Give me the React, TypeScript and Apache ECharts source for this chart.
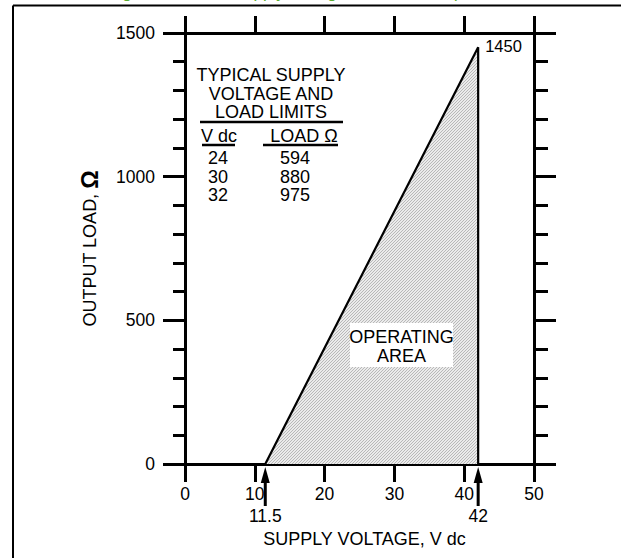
import React, { useEffect, useRef } from "react";
import * as echarts from "echarts";

// ---- data ----
const xTickValues = [0, 10, 20, 30, 40, 50];
const yTickValues = [0, 500, 1000, 1500];
const areaVoltage = [11.5, 42, 42];
const areaLoad = [0, 1450, 0];
const apexVoltage = 42;
const apexLoad = 1450;
const limitVoltages = [11.5, 42];
const tableVdc = ["24", "30", "32"];
const tableLoad = ["594", "880", "975"];
const tableTitle = ["TYPICAL SUPPLY", "VOLTAGE AND", "LOAD LIMITS"];

const FONT = '"Liberation Sans", Arial, Helvetica, sans-serif';

export default function App() {
  const ref = useRef<HTMLDivElement>(null);

  useEffect(() => {
    document.body.style.margin = "0";
    const chart = echarts.init(ref.current!, null, { renderer: "svg" });

    // hatch pattern
    const c = document.createElement("canvas");
    c.width = 3;
    c.height = 3;
    const ctx = c.getContext("2d")!;
    ctx.fillStyle = "#ebebeb";
    ctx.fillRect(0, 0, 3, 3);
    ctx.fillStyle = "#b8b8b8";
    for (let i = 0; i < 3; i++) ctx.fillRect(i, 2 - i, 1, 1);
    const hatch: any = { image: c, repeat: "repeat" };

    const black = "#000";
    const tickLabel = { color: black, fontSize: 17.5, fontFamily: FONT, formatter: (v: number) => String(v) };

    const graphic: any[] = [
      // frame
      { type: "line", z: 20, shape: { x1: 13, y1: 5.5, x2: 621, y2: 5.5 }, style: { stroke: black, lineWidth: 2 } },
      { type: "line", z: 20, shape: { x1: 13, y1: 5.5, x2: 13, y2: 558 }, style: { stroke: black, lineWidth: 2 } },
      // clipped title (only descenders visible in the reference)
      {
        type: "text", z: 19, x: 108, y: 0.5,
        style: { text: "Figure 3. Power Supply Voltage and Load Requirements", fill: "#5aac2e", font: `17px ${FONT}`, verticalAlign: "bottom", align: "left" },
      },
      // table
      ...tableTitle.map((t, i) => ({
        type: "text", z: 20, x: 271, y: 75 + i * 18.5,
        style: { text: t, fill: black, font: `18px ${FONT}`, align: "center", verticalAlign: "middle" },
      })),
      { type: "line", z: 20, shape: { x1: 200, y1: 122, x2: 343, y2: 122 }, style: { stroke: black, lineWidth: 2.5 } },
      { type: "text", z: 20, x: 219, y: 136, style: { text: "V dc", fill: black, font: `18px ${FONT}`, align: "center", verticalAlign: "middle" } },
      { type: "text", z: 20, x: 304, y: 136, style: { text: "LOAD Ω", fill: black, font: `18px ${FONT}`, align: "center", verticalAlign: "middle" } },
      { type: "line", z: 20, shape: { x1: 202, y1: 145, x2: 235, y2: 145 }, style: { stroke: black, lineWidth: 2.5 } },
      { type: "line", z: 20, shape: { x1: 263, y1: 145, x2: 338, y2: 145 }, style: { stroke: black, lineWidth: 2.5 } },
      ...tableVdc.map((t, i) => ({
        type: "text", z: 20, x: 218, y: 158 + i * 18.5,
        style: { text: t, fill: black, font: `18px ${FONT}`, align: "center", verticalAlign: "middle" },
      })),
      ...tableLoad.map((t, i) => ({
        type: "text", z: 20, x: 295, y: 158 + i * 18.5,
        style: { text: t, fill: black, font: `18px ${FONT}`, align: "center", verticalAlign: "middle" },
      })),
      // operating area label
      { type: "rect", z: 20, shape: { x: 350, y: 323, width: 103, height: 44 }, style: { fill: "#fff" } },
      {
        type: "text", z: 21, x: 401.5, y: 346.5,
        style: { text: "OPERATING\nAREA", fill: black, font: `18px ${FONT}`, lineHeight: 19, align: "center", verticalAlign: "middle" },
      },
    ];

    const option: any = {
      animation: false,
      backgroundColor: "#fff",
      grid: { left: 185, right: 87, top: 33, bottom: 94, containLabel: false },
      xAxis: [
        {
          type: "value", position: "bottom", min: 0, max: 50, interval: 10,
          axisLine: { show: true, onZero: false, lineStyle: { color: black, width: 3 } },
          axisTick: { show: true, inside: false, length: 18, lineStyle: { color: black, width: 3 } },
          axisLabel: { ...tickLabel, margin: 21, customValues: xTickValues },
          splitLine: { show: false },
          name: "SUPPLY VOLTAGE, V dc", nameLocation: "middle", nameGap: 66,
          nameTextStyle: { color: black, fontSize: 18, fontFamily: FONT, padding: [0, 0, 0, 10] },
        },
        {
          type: "value", position: "top", min: 0, max: 50, interval: 10,
          axisLine: { show: true, onZero: false, lineStyle: { color: black, width: 3 } },
          axisTick: { show: true, inside: false, length: 17, lineStyle: { color: black, width: 3 } },
          axisLabel: { show: false },
          splitLine: { show: false },
        },
      ],
      yAxis: [
        {
          type: "value", position: "left", min: 0, max: 1500, interval: 500,
          axisLine: { show: true, onZero: false, lineStyle: { color: black, width: 3 } },
          axisTick: { show: true, inside: false, length: 22, lineStyle: { color: black, width: 3 } },
          minorTick: { show: true, splitNumber: 5, length: 12, lineStyle: { color: black, width: 3 } },
          axisLabel: { ...tickLabel, margin: 30, customValues: yTickValues },
          splitLine: { show: false },
          minorSplitLine: { show: false },
          name: "{a|OUTPUT LOAD, }{b|Ω}", nameLocation: "middle", nameGap: 84,
          nameTextStyle: {
            color: black, fontFamily: FONT,
            rich: {
              a: { fontSize: 18, fontFamily: FONT, color: black },
              b: { fontSize: 23, fontWeight: "bold", fontFamily: FONT, color: black },
            },
          },
        },
        {
          type: "value", position: "right", min: 0, max: 1500, interval: 500,
          axisLine: { show: true, onZero: false, lineStyle: { color: black, width: 3 } },
          axisTick: { show: true, inside: false, length: 22, lineStyle: { color: black, width: 3 } },
          minorTick: { show: true, splitNumber: 5, length: 14, lineStyle: { color: black, width: 3 } },
          axisLabel: { show: false },
          splitLine: { show: false },
          minorSplitLine: { show: false },
        },
      ],
      series: [
        {
          type: "custom", name: "Operating area", xAxisIndex: 0, yAxisIndex: 0, z: 1,
          clip: false,
          data: [[apexVoltage, apexLoad]],
          encode: { x: 0, y: 1 },
          renderItem: (params: any, api: any) => {
            const pts = areaVoltage.map((v, i) => api.coord([v, areaLoad[i]]));
            const apex = api.coord([api.value(0), api.value(1)]);
            return {
              type: "group",
              children: [
                { type: "polygon", shape: { points: pts }, style: { fill: hatch, stroke: null } },
                { type: "polyline", shape: { points: pts }, style: { fill: null, stroke: black, lineWidth: 2.2 } },
                {
                  type: "text", x: apex[0] + 7, y: apex[1] - 1,
                  style: { text: String(apexLoad), fill: black, font: `16.5px ${FONT}`, align: "left", verticalAlign: "middle" },
                },
              ],
            };
          },
        },
        {
          type: "custom", name: "Limits", xAxisIndex: 0, yAxisIndex: 0, z: 5,
          clip: false,
          data: limitVoltages.map((v) => [v, 0]),
          encode: { x: 0, y: 1 },
          renderItem: (params: any, api: any) => {
            const p = api.coord([api.value(0), api.value(1)]);
            return {
              type: "group",
              children: [
                { type: "line", shape: { x1: p[0], y1: p[1] + 15, x2: p[0], y2: p[1] + 42 }, style: { stroke: black, lineWidth: 3 } },
                {
                  type: "polygon",
                  shape: { points: [[p[0], p[1] + 3], [p[0] - 4.5, p[1] + 19], [p[0] + 4.5, p[1] + 19]] },
                  style: { fill: black },
                },
                {
                  type: "text", x: p[0], y: p[1] + 51.5,
                  style: { text: String(api.value(0)), fill: black, font: `17.5px ${FONT}`, align: "center", verticalAlign: "middle" },
                },
              ],
            };
          },
        },
      ],
      graphic,
    };

    chart.setOption(option);
    return () => chart.dispose();
  }, []);

  return (
    <div
      ref={ref}
      style={{ position: "absolute", left: 0, top: 0, width: 621, height: 558, background: "#fff" }}
    />
  );
}
